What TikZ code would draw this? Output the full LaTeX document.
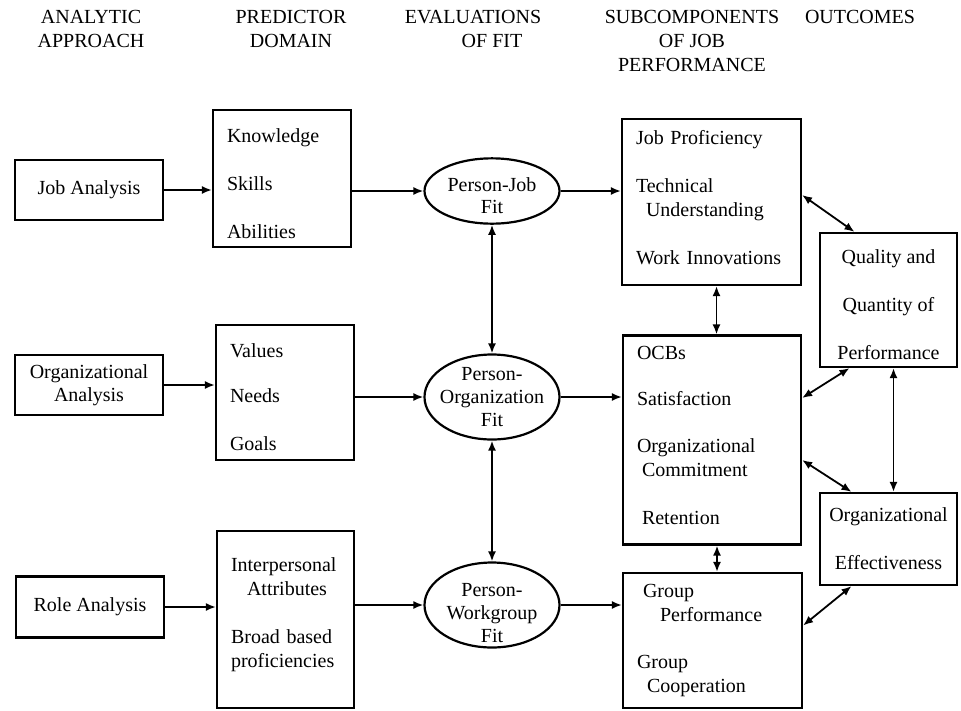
\documentclass[tikz,border=0pt]{standalone}
\usepackage{fontspec}
\setmainfont{Liberation Serif}
\usetikzlibrary{arrows.meta,shapes.geometric}

\begin{document}
\begin{tikzpicture}[x=1pt, y=-1pt,
    font=\fontsize{20}{24}\selectfont,
    dropped/.style={execute at begin node={\rule{0pt}{24pt}}},
    box/.style={draw, line width=2.2pt, inner xsep=14pt, inner ysep=0pt, align=left, text width=#1, dropped},
    midbox/.style={draw, line width=2.2pt, inner sep=0pt, align=center, minimum width=#1},
    fitnode/.style={ellipse, draw, line width=2.2pt, inner sep=-15pt, align=center, minimum width=135pt},
    colhead/.style={anchor=north, inner sep=0pt, align=center},
    flow/.style={-{Latex[length=10pt,width=8pt]}, line width=1.8pt},
    link/.style={{Latex[length=10pt,width=8pt]}-{Latex[length=10pt,width=8pt]}, line width=1.8pt}]

    \useasboundingbox (0,0) rectangle (961,710);

    % Column headings
    \node[colhead] (h1) at (91,10) {ANALYTIC\\APPROACH};
    \node[colhead] (h2) at (291,10) {PREDICTOR\\DOMAIN};
    \node[colhead] (h3) at (473,10) {EVALUATIONS\\\hspace*{38pt}OF FIT};
    \node[colhead] (h4) at (692,10) {SUBCOMPONENTS\\OF JOB\\PERFORMANCE};
    \node[colhead] (h5) at (860,10) {OUTCOMES};

    % Analytic approach
    \node[midbox=148pt, minimum height=60pt] (ja) at (89,190) {Job Analysis};
    \node[midbox=148pt, minimum height=60pt] (oa) at (89,385) {Organizational\\[-1pt]Analysis};
    \node[midbox=148pt, minimum height=61pt] (ra) at (90,607) {Role Analysis};

    % Predictor domain
    \node[box=110pt, minimum height=137pt] (ksa) at (282,178.5)
        {Knowledge\\[24pt]Skills\\[24pt]Abilities};
    \node[box=110pt, minimum height=135pt] (vng) at (285,392.5)
        {Values\\[21pt]Needs\\[24pt]Goals};
    \node[box=109pt, minimum height=177pt] (ipa) at (285.5,619.5)
        {Interpersonal\\\hspace*{16pt}Attributes\\[24pt]Broad based\\proficiencies\\~};

    % Evaluations of fit
    \node[fitnode, inner sep=0pt, minimum height=63pt] (pj) at (492,191) {\rule{0pt}{24pt}Person-Job\\[-2pt]Fit};
    \node[fitnode, minimum height=85pt] (po) at (492,397) {Person-\\[-1pt]Organization\\[-1pt]Fit};
    \node[fitnode, minimum height=85pt] (pw) at (492,605)
        {\rule{0pt}{30pt}Person-\\[-1pt]Workgroup\\[-1pt]Fit};

    % Subcomponents of job performance
    \node[box=151pt, minimum height=166pt] (jp) at (711.5,202)
        {Job Proficiency\\[24pt]Technical\\\hspace*{10pt}Understanding\\[24pt]Work Innovations\\[-4pt]~};
    \node[box=150pt, minimum height=206pt] (ocb) at (712,440)
        {OCBs\\[22pt]Satisfaction\\[23pt]Organizational\\\hspace*{5pt}Commitment\\[24pt]\hspace*{5pt}Retention\\[-4pt]~};
    \node[box=151pt, minimum height=135pt] (grp) at (712.5,640.5)
        {\hspace*{6pt}Group\\\hspace*{23pt}Performance\\[23pt]Group\\\hspace*{10pt}Cooperation\\[-8pt]~};

    % Outcomes
    \node[midbox=137pt, minimum height=134pt] (qq) at (888.5,300)
        {\rule{0pt}{24pt}Quality and\\[24pt]Quantity of\\[24pt]Performance};
    \node[midbox=137pt, minimum height=92pt] (oe) at (888.5,539)
        {Organizational\\[24pt]Effectiveness};

    % Left to right
    \draw[flow] (ja.east) -- (ja -| ksa.west);
    \draw[flow] (oa.east) -- (oa -| vng.west);
    \draw[flow] (ra.east) -- (ra -| ipa.west);
    \draw[flow] (pj -| ksa.east) -- (pj.west);
    \draw[flow] (po -| vng.east) -- (po.west);
    \draw[flow] (pw -| ipa.east) -- (pw.west);
    \draw[flow] (pj.east) -- (pj -| jp.west);
    \draw[flow] (po.east) -- (po -| ocb.west);
    \draw[flow] (pw.east) -- (pw -| grp.west);

    % Two-way links
    \draw[link] (pj.south) -- (po.north);
    \draw[link] (po.south) -- (pw.north);
    \draw[link] ([xshift=5pt]jp.south) -- ([xshift=5pt]jp.south |- ocb.north);
    \draw[link] ([xshift=5pt]ocb.south) -- ([xshift=5pt]ocb.south |- grp.north);
    \draw[link] ([xshift=5pt]qq.south) -- ([xshift=5pt]oe.north);
    \draw[link] ([yshift=7pt]jp.east) -- ([xshift=-34pt]qq.north);
    \draw[link] ([yshift=42pt]ocb.east) -- ([xshift=-39pt]qq.south);
    \draw[link] ([yshift=-20pt]ocb.east) -- ([xshift=-37pt]oe.north);
    \draw[link] ([yshift=15pt]grp.east) -- ([xshift=-37pt]oe.south);

\end{tikzpicture}
\end{document}
